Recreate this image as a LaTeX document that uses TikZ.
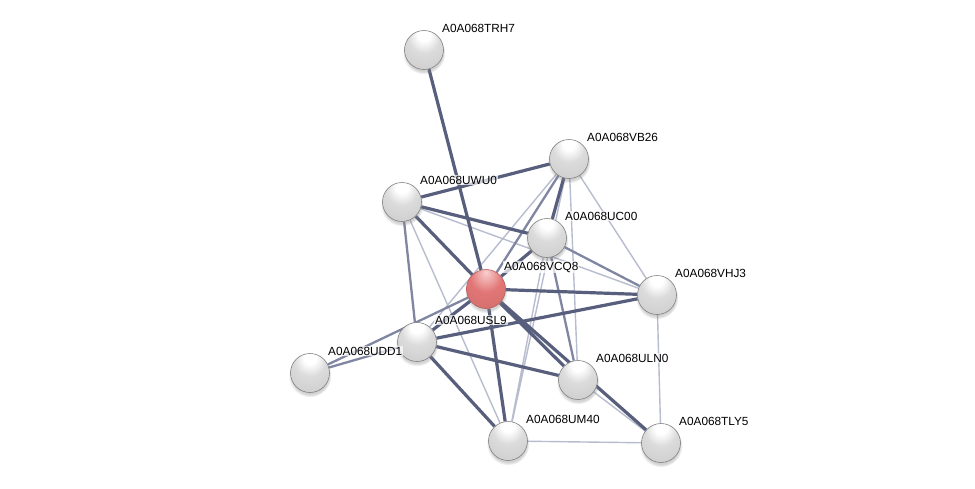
\documentclass[tikz,border=0pt]{standalone}
\usepackage{fontspec}
\setsansfont{Liberation Sans}
\usetikzlibrary{backgrounds,shadows}
\definecolor{linkhi}{RGB}{88,95,125}
\definecolor{linkmid}{RGB}{128,134,162}
\definecolor{linklo}{RGB}{184,188,207}
\definecolor{qtop}{RGB}{250,208,208}
\definecolor{qmid}{RGB}{226,118,118}
\definecolor{qrim}{RGB}{160,52,52}
\pgfdeclareradialshading{protball}{\pgfqpoint{0bp}{22bp}}{color(0bp)=(white); color(8bp)=(white); color(20bp)=(black!14); color(38bp)=(black!19); color(52bp)=(black!28); color(62bp)=(black!42); color(72bp)=(black!60)}
\pgfdeclareradialshading{queryball}{\pgfqpoint{0bp}{22bp}}{color(0bp)=(qtop); color(20bp)=(qmid); color(50bp)=(qmid!90!black); color(62bp)=(qmid!75!black); color(72bp)=(qrim)}

\begin{document}
\begin{tikzpicture}[x=1pt,y=-1pt,
  prot/.style={circle,minimum size=39pt,inner sep=0pt,draw=black!50,line width=0.6pt,shading=protball,
    circular drop shadow={shadow xshift=0pt,shadow yshift=-2.5pt,opacity=0.35}},
  query/.style={prot,shading=queryball,draw=qrim!80},
  lbl/.style={font=\sffamily\fontsize{11.8}{13}\selectfont,anchor=west,inner sep=1pt,
    fill=white,fill opacity=0.7,text opacity=1},
  hi/.style={draw=linkhi,line width=3.2pt},
  mid/.style={draw=linkmid,line width=2.3pt},
  lo/.style={draw=linklo,line width=1.4pt}]
\useasboundingbox (0,0) rectangle (975,488);

\node[prot] (TRH7) at (424,50) {};
\node[prot] (VB26) at (569,159) {};
\node[prot] (UWU0) at (402,202) {};
\node[prot] (UC00) at (547,238) {};
\node[query] (VCQ8) at (486,289) {};
\node[prot] (VHJ3) at (657,295) {};
\node[prot] (USL9) at (417,342) {};
\node[prot] (UDD1) at (310,373) {};
\node[prot] (ULN0) at (578,380) {};
\node[prot] (UM40) at (508,441) {};
\node[prot] (TLY5) at (661,443) {};

\node[lbl] at ([shift={(17,-22)}]TRH7) {A0A068TRH7};
\node[lbl] at ([shift={(17,-22)}]VB26) {A0A068VB26};
\node[lbl] at ([shift={(17,-22)}]UWU0) {A0A068UWU0};
\node[lbl] at ([shift={(17,-22)}]UC00) {A0A068UC00};
\node[lbl] at ([shift={(17,-22)}]VCQ8) {A0A068VCQ8};
\node[lbl] at ([shift={(17,-22)}]VHJ3) {A0A068VHJ3};
\node[lbl] at ([shift={(17,-22)}]USL9) {A0A068USL9};
\node[lbl] at ([shift={(17,-22)}]UDD1) {A0A068UDD1};
\node[lbl] at ([shift={(17,-22)}]ULN0) {A0A068ULN0};
\node[lbl] at ([shift={(17,-22)}]UM40) {A0A068UM40};
\node[lbl] at ([shift={(17,-22)}]TLY5) {A0A068TLY5};

% links, weakest first
\begin{scope}[on background layer]
\fill[white] (0,0) rectangle (975,488);
\draw[lo] (UWU0) -- (VHJ3) (UWU0) -- (UM40) (VB26) -- (USL9) (VB26) -- (VHJ3)
  (VB26) -- (ULN0) (VB26) -- (UM40) (UC00) -- (UM40) (VHJ3) -- (TLY5)
  (ULN0) -- (TLY5) (UM40) -- (TLY5);
\draw[mid] (UWU0) -- (USL9) (VB26) -- (VCQ8) (UC00) -- (VHJ3) (UC00) -- (ULN0)
  (USL9) -- (UDD1) (VCQ8) -- (UDD1);
\draw[hi] (TRH7) -- (VCQ8) (UWU0) -- (VB26) (UWU0) -- (UC00) (UWU0) -- (VCQ8)
  (VB26) -- (UC00) (UC00) -- (VCQ8) (VCQ8) -- (VHJ3) (VCQ8) -- (USL9)
  (VCQ8) -- (ULN0) (VCQ8) -- (TLY5) (VCQ8) -- (UM40) (USL9) -- (VHJ3)
  (USL9) -- (ULN0) (USL9) -- (UM40);
\end{scope}
\end{tikzpicture}
\end{document}
